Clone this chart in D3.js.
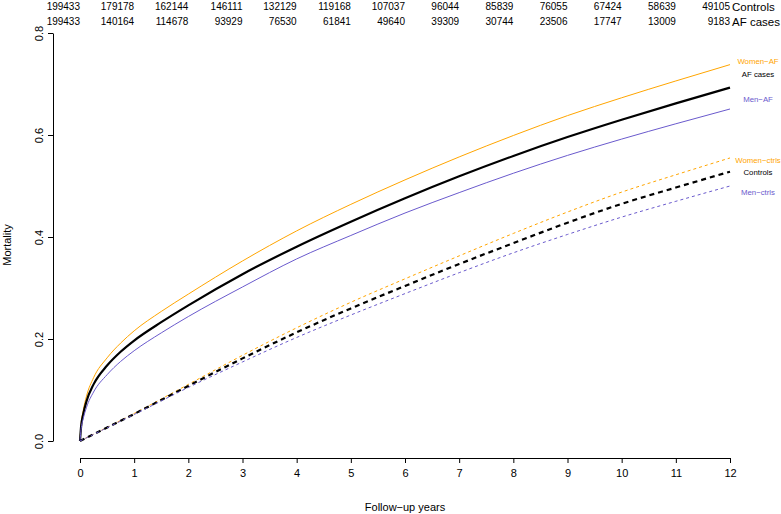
<!DOCTYPE html>
<html>
<head>
<meta charset="utf-8">
<script src="https://cdn.jsdelivr.net/npm/d3@7"></script>
<style>
  body { margin: 0; background: #fff; }
  svg { font-family: "Liberation Sans", Arial, Helvetica, sans-serif; }
</style>
</head>
<body>
<svg id="chart" width="781" height="514"></svg>
<script>
// ---- data ----
const afYears   = [0, 0.02, 0.06, 0.12, 0.25, 0.5, 0.75, 1, 1.5, 2, 3, 4, 5, 6, 7, 8, 9, 10, 11, 12];
const womenAF   = [0, 0.032, 0.060, 0.088, 0.124, 0.163, 0.192, 0.216, 0.254, 0.288, 0.353, 0.412, 0.464, 0.512, 0.557, 0.599, 0.638, 0.673, 0.706, 0.738];
const afCases   = [0, 0.028, 0.053, 0.078, 0.111, 0.148, 0.175, 0.197, 0.233, 0.266, 0.327, 0.381, 0.430, 0.476, 0.519, 0.559, 0.596, 0.630, 0.662, 0.693];
const menAF     = [0, 0.023, 0.044, 0.066, 0.096, 0.130, 0.156, 0.177, 0.212, 0.244, 0.302, 0.357, 0.403, 0.447, 0.487, 0.525, 0.560, 0.592, 0.622, 0.651];

const ctrlYears   = [0, 1, 2, 3, 4, 5, 6, 7, 8, 9, 10, 11, 12];
const womenCtrls  = [0, 0.054, 0.111, 0.168, 0.222, 0.272, 0.318, 0.363, 0.407, 0.449, 0.488, 0.522, 0.555];
const controls    = [0, 0.053, 0.108, 0.162, 0.213, 0.260, 0.304, 0.347, 0.388, 0.428, 0.465, 0.497, 0.528];
const menCtrls    = [0, 0.052, 0.105, 0.155, 0.203, 0.247, 0.289, 0.330, 0.369, 0.405, 0.439, 0.470, 0.500];

const riskYears    = [0, 1, 2, 3, 4, 5, 6, 7, 8, 9, 10, 11, 12];
const riskControls = [199433, 179178, 162144, 146111, 132129, 119168, 107037, 96044, 85839, 76055, 67424, 58639, 49105];
const riskAF       = [199433, 140164, 114678, 93929, 76530, 61841, 49640, 39309, 30744, 23506, 17747, 13009, 9183];
const riskLabels   = ["Controls", "AF cases"];

const seriesNames  = ["Women\u2212AF", "AF cases", "Men\u2212AF", "Women\u2212ctrls", "Controls", "Men\u2212ctrls"];
const labelValues  = [0.745, 0.720, 0.671, 0.551, 0.527, 0.488];

const xTicks = [0, 1, 2, 3, 4, 5, 6, 7, 8, 9, 10, 11, 12];
const yTicks = [0, 0.2, 0.4, 0.6, 0.8];

// ---- layout ----
const svg = d3.select("#chart");
const x = d3.scaleLinear().domain([0, 12]).range([80, 730]);
const y = d3.scaleLinear().domain([0, 0.8]).range([441, 33]);

const ORANGE = "#FFA500", PURPLE = "#6A5ACD", BLACK = "#000";

const series = [
  { xs: afYears,   vs: womenAF,    color: ORANGE, w: 1,   dash: null },
  { xs: afYears,   vs: afCases,    color: BLACK,  w: 2.2, dash: null },
  { xs: afYears,   vs: menAF,      color: PURPLE, w: 1,   dash: null },
  { xs: ctrlYears, vs: womenCtrls, color: ORANGE, w: 1,   dash: "3,3" },
  { xs: ctrlYears, vs: controls,   color: BLACK,  w: 2.2, dash: "5,4" },
  { xs: ctrlYears, vs: menCtrls,   color: PURPLE, w: 1,   dash: "3,3" }
];

const line = d3.line().x(d => x(d[0])).y(d => y(d[1])).curve(d3.curveMonotoneX);

series.forEach(s => {
  svg.append("path")
    .attr("d", line(s.xs.map((t, i) => [t, s.vs[i]])))
    .attr("fill", "none")
    .attr("stroke", s.color)
    .attr("stroke-width", s.w)
    .attr("stroke-dasharray", s.dash);
});

// right labels
series.forEach((s, i) => {
  svg.append("text")
    .attr("x", 758)
    .attr("y", y(labelValues[i]) + 3)
    .attr("text-anchor", "middle")
    .attr("font-size", 7.8)
    .attr("fill", s.color)
    .text(seriesNames[i]);
});

// x axis
const xAxis = d3.axisBottom(x).tickValues(xTicks).tickSize(5).tickSizeOuter(0).tickPadding(6)
  .tickFormat(d3.format("d"));
const gx = svg.append("g").attr("transform", "translate(0,458)").call(xAxis);
gx.selectAll("text").attr("font-size", 11).attr("font-family", null).attr("fill", "#000");
gx.selectAll("line, path").attr("stroke", "#000");

// y axis
const yAxis = d3.axisLeft(y).tickValues(yTicks).tickSize(5).tickSizeOuter(0)
  .tickFormat(d3.format(".1f"));
const gy = svg.append("g").attr("transform", "translate(53,0)").call(yAxis);
gy.selectAll("line, path").attr("stroke", "#000");
gy.selectAll("text")
  .attr("font-size", 11).attr("font-family", null).attr("fill", "#000")
  .attr("x", null).attr("dy", null)
  .attr("text-anchor", "middle")
  .attr("transform", "translate(-10,0) rotate(-90)");

// axis titles
svg.append("text").attr("x", (x(0) + x(12)) / 2).attr("y", 511)
  .attr("text-anchor", "middle").attr("font-size", 11).text("Follow\u2212up years");
svg.append("text").attr("transform", "translate(11,245) rotate(-90)")
  .attr("text-anchor", "middle").attr("font-size", 11).text("Mortality");

// numbers at risk
[riskControls, riskAF].forEach((row, r) => {
  const base = r === 0 ? 10 : 25;
  row.forEach((n, i) => {
    svg.append("text").attr("x", x(riskYears[i])).attr("y", base)
      .attr("text-anchor", "end").attr("font-size", 10).text(n);
  });
  svg.append("text").attr("x", x(12) + 2).attr("y", base + 0.5)
    .attr("font-size", 11.5).text(riskLabels[r]);
});
</script>
</body>
</html>
